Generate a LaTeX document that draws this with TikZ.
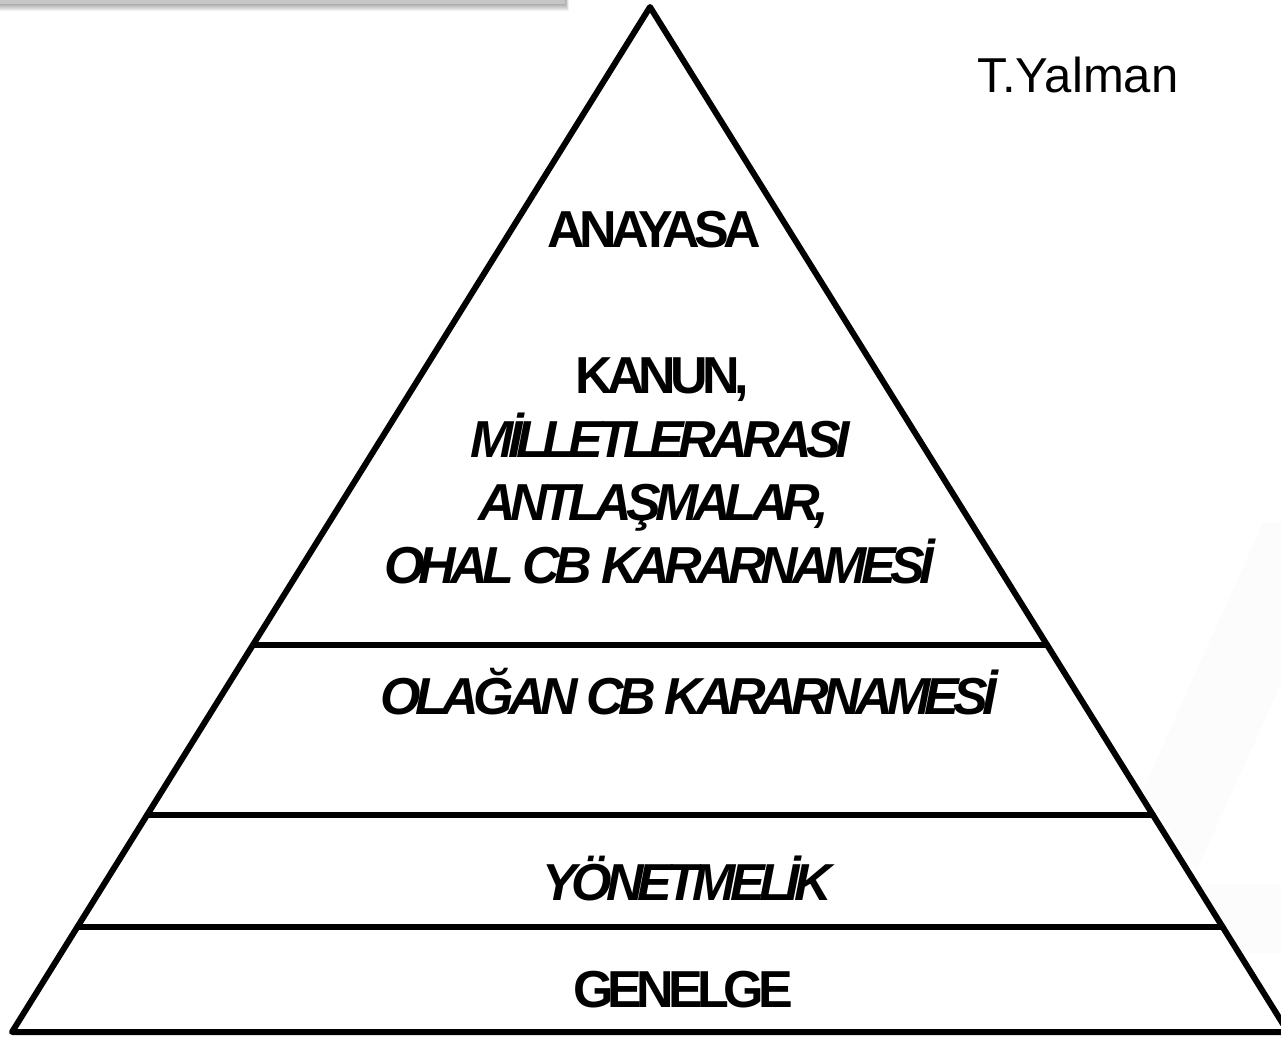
\documentclass[tikz,border=0pt]{standalone}
\usepackage{fontspec}
\setmainfont{Liberation Sans}
\newfontfamily\tightfont[LetterSpace=-11]{Liberation Sans}
\usetikzlibrary{calc}
\tikzset{
  edgeline/.style={line width=6pt, line join=round, line cap=round},
  lvl/.style={anchor=base, inner sep=0pt, font=\tightfont\bfseries\fontsize{52}{60}\selectfont},
  lvli/.style={anchor=base, inner sep=0pt, font=\tightfont\bfseries\itshape\fontsize{52}{60}\selectfont},
  author/.style={anchor=base, inner sep=0pt, font=\fontsize{49}{56}\selectfont},
}
\begin{document}
\begin{tikzpicture}[x=1pt,y=-1pt]
\useasboundingbox (0,0) rectangle (1281,1038);
\fill[white] (0,0) rectangle (1281,1038);
% faint background shapes on the right
\fill[gray!2] (1263,523) -- (1281,523) -- (1281,683) -- (1197,870) -- (1143,790) -- cycle;
\fill[gray!2] (1150,884) rectangle (1281,953);
% top-left bar with soft shadow
\foreach \i in {1,...,7} {\fill[black,opacity=0.05] (0,0) rectangle (565+0.5*\i,4+\i);}
\fill[gray!45] (0,0) rectangle (565,4);
% pyramid
\coordinate (apex) at (650,7);
\coordinate (bl) at (12,1032);
\coordinate (br) at (1288,1032);
\fill[white] (apex) -- (bl) -- (br) -- cycle;
\coordinate (l1a) at ($(apex)!0.6224!(bl)$);
\coordinate (l1b) at ($(apex)!0.6224!(br)$);
\coordinate (l2a) at ($(apex)!0.7883!(bl)$);
\coordinate (l2b) at ($(apex)!0.7883!(br)$);
\coordinate (l3a) at ($(apex)!0.8976!(bl)$);
\coordinate (l3b) at ($(apex)!0.8976!(br)$);
\draw[edgeline] (apex) -- (bl) -- (br) -- cycle;
\draw[edgeline] (l1a) -- (l1b);
\draw[edgeline] (l2a) -- (l2b);
\draw[edgeline] (l3a) -- (l3b);
% texts
\node[lvl] (anayasa) at (654.5,247) {ANAYASA};
\node[lvl] (kanun) at (662,393) {KANUN,};
\node[lvli] (milletler) at (660,457) {MİLLETLERARASI};
\node[lvli] (antlasma) at (654,520) {ANTLAŞMALAR,};
\node[lvli] (ohal) at (659,583) {OHAL CB KARARNAMESİ};
\node[lvli] (olagan) at (689,714) {OLAĞAN CB KARARNAMESİ};
\node[lvli] (yonetmelik) at (687,900) {YÖNETMELİK};
\node[lvl] (genelge) at (683,1007) {GENELGE};
\node[author] (yalman) at (1078,93) {T.Yalman};
\end{tikzpicture}
\end{document}
